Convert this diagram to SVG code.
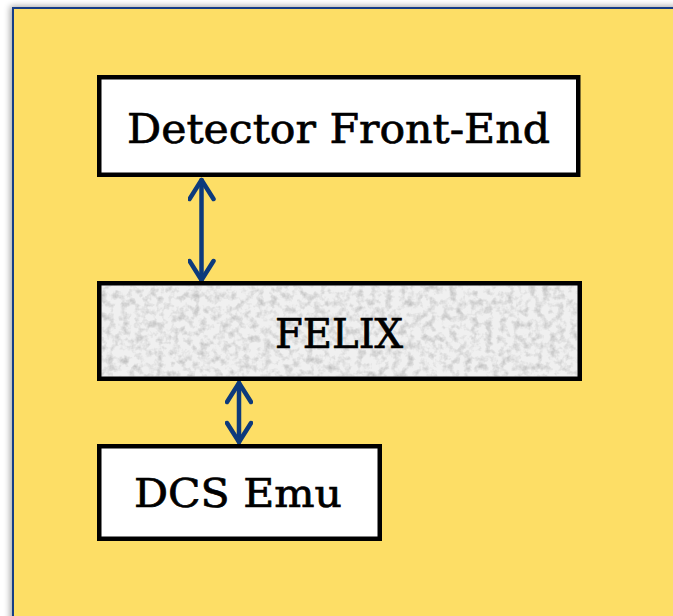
<svg xmlns="http://www.w3.org/2000/svg" width="673" height="616" viewBox="0 0 673 616">
  <defs>
    <style>
      .box { stroke: #000; stroke-width: 4.5; }
      .lbl { font-family: "DejaVu Serif", "Liberation Serif", serif; fill: #000; stroke: #000; stroke-width: 0.7; text-anchor: middle; }
      .conn { stroke: #0D3A7C; stroke-width: 4.5; fill: none; stroke-linecap: round; stroke-linejoin: round; }
    </style>
    <filter id="shadow" x="-5%" y="-5%" width="110%" height="110%">
      <feGaussianBlur in="SourceAlpha" stdDeviation="3"/>
      <feOffset dx="-2" dy="-1" result="b"/>
      <feComponentTransfer><feFuncA type="linear" slope="0.35"/></feComponentTransfer>
      <feMerge><feMergeNode/><feMergeNode in="SourceGraphic"/></feMerge>
    </filter>
    <filter id="grain" x="0" y="0" width="100%" height="100%">
      <feTurbulence type="fractalNoise" baseFrequency="0.14" numOctaves="3" seed="4" result="n"/>
      <feColorMatrix in="n" type="matrix" values="0 0 0 0 0  0 0 0 0 0  0 0 0 0 0  0 0 0 -1.4 0.8" result="g"/>
      <feComposite in="g" in2="SourceGraphic" operator="in"/>
    </filter>
    <marker id="head" viewBox="0 0 26 28" refX="23" refY="14" markerWidth="26" markerHeight="28" markerUnits="userSpaceOnUse" orient="auto-start-reverse">
      <path d="M4 2 L23 14 L4 26" fill="none" stroke="#0D3A7C" stroke-width="4.5" stroke-linecap="round" stroke-linejoin="round"/>
    </marker>
  </defs>
  <rect width="673" height="616" fill="#fff"/>
  <g id="panel">
    <rect x="13" y="8" width="680" height="630" fill="#FDDE66" stroke="#123D85" stroke-width="2" filter="url(#shadow)"/>
  </g>
  <g id="connectors">
    <path class="conn" d="M201.5 180 V280" marker-start="url(#head)" marker-end="url(#head)"/>
    <path class="conn" d="M239 383 V442" marker-start="url(#head)" marker-end="url(#head)"/>
  </g>
  <g id="detector-front-end">
    <rect class="box" x="99.25" y="77.25" width="479" height="97.5" fill="#fff"/>
    <text class="lbl" x="338.5" y="143" font-size="41" textLength="423" lengthAdjust="spacingAndGlyphs">Detector Front-End</text>
  </g>
  <g id="felix">
    <rect class="box" x="99.25" y="283.25" width="480.5" height="95.5" fill="#F0F0F0"/>
    <rect x="101.5" y="285.5" width="476" height="91" fill="#a0a0a0" filter="url(#grain)" opacity="0.3"/>
    <text class="lbl" x="339" y="348" font-size="41" textLength="128" lengthAdjust="spacingAndGlyphs">FELIX</text>
  </g>
  <g id="dcs-emu">
    <rect class="box" x="99.25" y="446.25" width="280.5" height="92.5" fill="#fff"/>
    <text class="lbl" x="238" y="507" font-size="39" textLength="208" lengthAdjust="spacingAndGlyphs">DCS Emu</text>
  </g>
</svg>
